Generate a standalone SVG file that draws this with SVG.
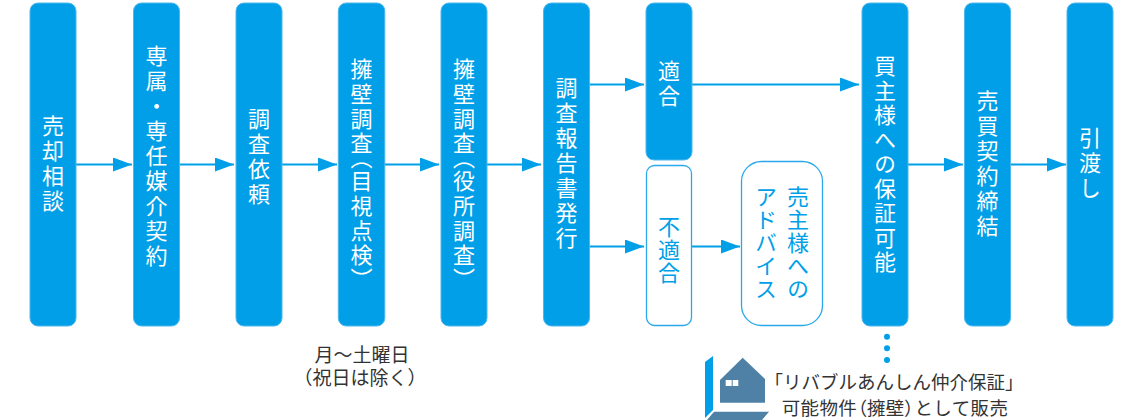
<svg xmlns="http://www.w3.org/2000/svg" width="1143" height="420" viewBox="0 0 1143 420">
<style>
.b{fill:#009fe8;stroke:#4db8ee;stroke-width:1}
.o{fill:#fff;stroke:#2aa9ea;stroke-width:1.3}
text{font-family:"Noto Sans CJK JP","Noto Sans",sans-serif}
.v{writing-mode:vertical-rl;text-anchor:middle;font-size:22px;letter-spacing:3px;fill:#fff}
.p{font-feature-settings:"vpal";letter-spacing:2.6px}
.n{letter-spacing:1px}
.vo{fill:#009fe8}
.t{font-size:19px;fill:#333;text-anchor:middle}
.u{font-size:18.500px}
.l{letter-spacing:.4px}
.q{font-feature-settings:"palt"}
.c{stroke:#009fe8;stroke-width:2;fill:none}
.d{fill:#009fe8}
.h{fill:#4f81a6}
.w{fill:#fff}
</style>
<defs><marker id="a" markerUnits="userSpaceOnUse" markerWidth="20" markerHeight="14" refX="19" refY="7" orient="auto"><path d="M0 0L19 7L0 14Z" fill="#009fe8"/></marker></defs>
<g id="connectors">
<path class="c" marker-end="url(#a)" d="M76 164.500H132"/>
<path class="c" marker-end="url(#a)" d="M179 164.500H234"/>
<path class="c" marker-end="url(#a)" d="M282 164.500H337"/>
<path class="c" marker-end="url(#a)" d="M384 164.500H439"/>
<path class="c" marker-end="url(#a)" d="M487 164.500H541"/>
<path class="c" marker-end="url(#a)" d="M589 84.500H644"/>
<path class="c" marker-end="url(#a)" d="M692 84.500H859"/>
<path class="c" marker-end="url(#a)" d="M589 246.500H644"/>
<path class="c" marker-end="url(#a)" d="M692 246.500H740"/>
<path class="c" marker-end="url(#a)" d="M908 164.500H963"/>
<path class="c" marker-end="url(#a)" d="M1011 164.500H1066"/>
</g>
<g id="n1"><rect class="b" x="30" y="3" width="46" height="323" rx="8"/><text class="v" x="53" y="164.500">売却相談</text></g>
<g id="n2"><rect class="b" x="133.500" y="3" width="46" height="323" rx="8"/><text class="v" x="156.500" y="157">専属・専任媒介契約</text></g>
<g id="n3"><rect class="b" x="236" y="3" width="46" height="323" rx="8"/><text class="v" x="259" y="158">調査依頼</text></g>
<g id="n4"><rect class="b" x="338.300" y="3" width="46.500" height="323" rx="8"/><text class="v p" x="361.500" y="170">擁壁調査（目視点検）</text></g>
<g id="n5"><rect class="b" x="441" y="3" width="46" height="323" rx="8"/><text class="v p" x="464" y="170">擁壁調査（役所調査）</text></g>
<g id="n6"><rect class="b" x="543.500" y="3" width="46" height="323" rx="8"/><text class="v" x="566.500" y="164.500">調査報告書発行</text></g>
<g id="n7"><rect class="b" x="646" y="3" width="46" height="157" rx="8"/><text class="v" x="669" y="85">適合</text></g>
<g id="n8"><rect class="o" x="646.500" y="165.500" width="45" height="160" rx="8"/><text class="v vo n" x="669" y="250.500">不適合</text></g>
<g id="n9"><rect class="o" x="741.500" y="161.500" width="81" height="164" rx="20"/><text class="v vo n" x="798" y="243">売主様への</text><text class="v vo n" x="766" y="243">アドバイス</text></g>
<g id="n10"><rect class="b" x="862" y="3" width="46" height="323" rx="8"/><text class="v" style="letter-spacing:2.500px" x="885" y="165">買主様への保証可能</text></g>
<g id="n11"><rect class="b" x="964.500" y="3" width="46" height="323" rx="8"/><text class="v" x="987.500" y="164.500">売買契約締結</text></g>
<g id="n12"><rect class="b" x="1067" y="3" width="46" height="323" rx="8"/><text class="v" x="1090" y="164">引渡し</text></g>
<g id="note1"><text class="t" x="362" y="362">月～土曜日</text><text class="t" x="360" y="385">（祝日は除く）</text></g>
<g id="dots"><circle class="d" cx="887" cy="336.700" r="3"/><circle class="d" cx="887" cy="348.300" r="3"/><circle class="d" cx="887" cy="360" r="3"/></g>
<g id="house">
<path class="d" d="M705 362L713 356V410L705 418Z"/>
<path class="h" d="M720 380L742.700 357.700L765 379V402.700H720Z"/>
<rect class="w" x="725.700" y="380" width="6" height="6"/><rect class="w" x="732.700" y="380" width="5.600" height="6"/>
<path class="h" d="M714 411.700H769L762 420H707Z"/>
</g>
<g id="note2"><text class="t u" x="894" y="389">「リバブルあんしん仲介保証」</text><text class="t u l" x="895" y="415">可能物件<tspan class="q">（</tspan>擁壁<tspan class="q">）</tspan>として販売</text></g>
</svg>
